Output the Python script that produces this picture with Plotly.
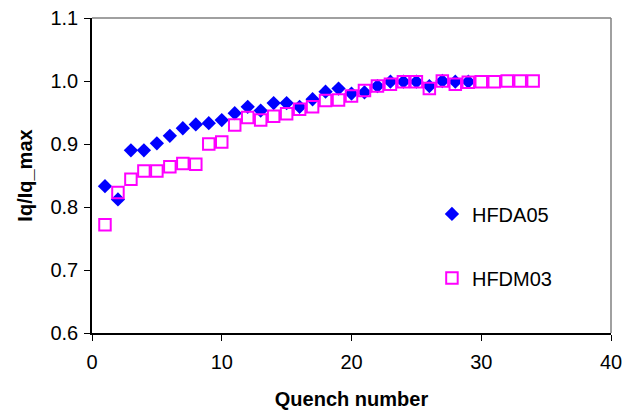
import plotly.graph_objects as go

quench_a = list(range(1, 30))
hfda05 = [0.833, 0.812, 0.890, 0.890, 0.901, 0.913, 0.925, 0.931, 0.933, 0.938,
          0.949, 0.959, 0.953, 0.965, 0.965, 0.959, 0.971, 0.983, 0.988, 0.980,
          0.982, 0.992, 0.999, 0.999, 0.999, 0.992, 1.000, 0.999, 0.999]

quench_m = list(range(1, 35))
hfdm03 = [0.772, 0.823, 0.844, 0.857, 0.857, 0.864, 0.869, 0.868, 0.900, 0.903,
          0.930, 0.942, 0.938, 0.944, 0.948, 0.955, 0.959, 0.969, 0.970, 0.976,
          0.985, 0.992, 0.995, 0.999, 0.999, 0.988, 1.000, 0.995, 0.998, 0.999,
          0.999, 1.000, 1.000, 1.000]

x_ticks = [0, 10, 20, 30, 40]
y_ticks = [0.6, 0.7, 0.8, 0.9, 1.0, 1.1]
y_tick_labels = ["0.6", "0.7", "0.8", "0.9", "1.0", "1.1"]

FONT = "Liberation Sans, Arial, sans-serif"

fig = go.Figure()
fig.add_trace(go.Scatter(
    x=quench_a, y=hfda05, mode="markers", name="HFDA05", legendgroup="a",
    marker=dict(symbol="diamond", size=11, color="#0000FF",
                line=dict(width=0)),
))
fig.add_trace(go.Scatter(
    x=quench_m, y=hfdm03, mode="markers", name="HFDM03", legendgroup="b",
    marker=dict(symbol="square-open", size=11.5, color="#FF00FF",
                line=dict(width=2, color="#FF00FF")),
))

fig.update_layout(
    width=636, height=410,
    margin=dict(l=92, r=25, t=18, b=77),
    paper_bgcolor="white", plot_bgcolor="white",
    font=dict(family=FONT, size=20, color="black"),
    showlegend=True,
    legend=dict(x=0.655, y=0.44, xanchor="left", yanchor="top",
                bgcolor="rgba(0,0,0,0)", font=dict(size=20),
                traceorder="grouped", tracegroupgap=35,
                itemwidth=30),
    shapes=[
        dict(type="line", xref="paper", yref="paper", x0=0, x1=1, y0=1, y1=1,
             line=dict(color="#808080", width=1.5)),
        dict(type="line", xref="paper", yref="paper", x0=1, x1=1, y0=0, y1=1,
             line=dict(color="#808080", width=1.5)),
    ],
)
fig.update_xaxes(
    range=[0, 40], tickvals=x_ticks, ticks="outside", ticklen=6,
    tickwidth=1, tickcolor="black", showline=True, linecolor="black",
    linewidth=1.5, showgrid=False, zeroline=False, ticklabelstandoff=4,
    automargin=False,
    title=dict(text="<b>Quench number</b>", font=dict(size=20), standoff=20),
)
fig.update_yaxes(
    range=[0.6, 1.1], tickvals=y_ticks, ticktext=y_tick_labels,
    ticks="outside", ticklen=6, tickwidth=1, tickcolor="black",
    showline=True, linecolor="black", linewidth=1.5, showgrid=False,
    zeroline=False, ticklabelstandoff=2, automargin=False,
    title=dict(text="<b>Iq/Iq_max</b>", font=dict(size=20), standoff=12),
)

fig.write_html("out.html")
